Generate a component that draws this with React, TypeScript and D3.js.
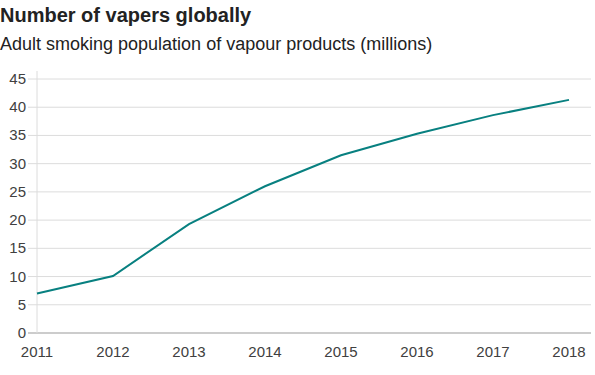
import React from "react";
import * as d3 from "d3";

const years = [2011, 2012, 2013, 2014, 2015, 2016, 2017, 2018];
const vapers = [7.0, 10.1, 19.3, 26.0, 31.5, 35.3, 38.6, 41.3];
const yTicks = [0, 5, 10, 15, 20, 25, 30, 35, 40, 45];
const title = "Number of vapers globally";
const subtitle = "Adult smoking population of vapour products (millions)";

export default function App() {
  const W = 595, H = 375;
  const x = d3.scaleLinear().domain([2011, 2018]).range([37, 569]);
  const y = d3.scaleLinear().domain([0, 45]).range([333, 79]);
  const line = d3.line<number>().x((_, i) => x(years[i])).y((d) => y(d));
  const font = "'Liberation Sans', Arial, Helvetica, sans-serif";
  return (
    <svg width={W} height={H} style={{ position: "absolute", left: 0, top: 0, fontFamily: font }}>
      <text x={0} y={22} fontSize={20} fontWeight="bold" fill="#222">{title}</text>
      <text x={0} y={50} fontSize={18} fill="#222">{subtitle}</text>
      {yTicks.map((t) => (
        <g key={t}>
          <line x1={28} x2={591} y1={y(t)} y2={y(t)} stroke={t === 0 ? "#999" : "#dcdcdc"} strokeWidth={1} />
          <text x={26} y={y(t) + 5} fontSize={15} textAnchor="end" fill="#404040">{t}</text>
        </g>
      ))}
      <line x1={37} x2={37} y1={71} y2={333} stroke="#dcdcdc" strokeWidth={1} />
      {years.map((yr) => (
        <text key={yr} x={x(yr)} y={357} fontSize={15} textAnchor="middle" fill="#404040">{yr}</text>
      ))}
      <path d={line(vapers) || ""} fill="none" stroke="#088080" strokeWidth={2} />
    </svg>
  );
}
